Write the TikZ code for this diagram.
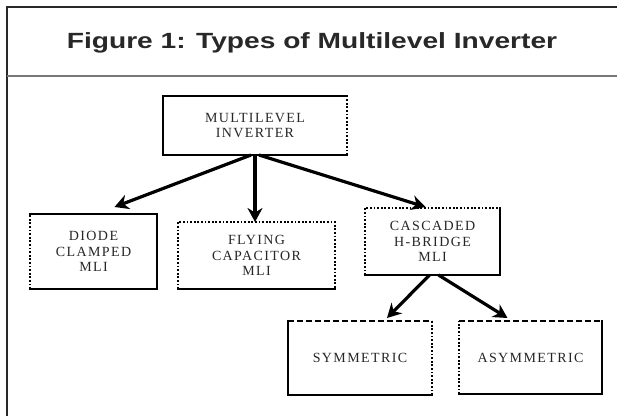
\documentclass[tikz,border=0pt]{standalone}
\usepackage{fontspec}
\usepackage{graphicx}
\setmainfont{Liberation Serif}
\newfontfamily\titlefont{Liberation Sans}
\newfontfamily\boxfont[LetterSpace=10]{Liberation Serif}
\usepackage{tikz}
\usetikzlibrary{positioning, arrows.meta, calc}
\definecolor{cT}{RGB}{40,40,40}
\definecolor{cS}{RGB}{120,120,120}

\begin{document}
\begin{tikzpicture}[x=1pt, y=-1pt,
    mlbox/.style={draw=none, outer sep=0pt, align=center, text=black!85,
        font=\boxfont\fontsize{14}{15.5}\selectfont},
    solidside/.style={line width=2pt, line cap=rect},
    dotside/.style={line width=2pt, dash pattern=on 1.8pt off 1.8pt},
    dashside/.style={line width=2pt, dash pattern=on 6pt off 3pt},
    arr/.style={line width=3.2pt, -{Stealth[length=14pt, width=15pt]}}]
    \useasboundingbox (0,0) rectangle (617,416);

    % Frame and header
    \draw[line width=1.8pt, cT] (7,416) -- (7,7) -- (617,7);
    \draw[line width=1.8pt, cS] (7,76) -- (617,76);
    \node[font=\titlefont\bfseries\fontsize{22}{26}\selectfont, text=cT, anchor=base] (title) at (312,48) {\scalebox{1.28}[1]{Figure 1: Types of Multilevel Inverter}};

    % Boxes
    \node[mlbox, minimum width=184pt, minimum height=59pt] (mli) at (255,125.5) {MULTILEVEL\\INVERTER};
    \node[mlbox, minimum width=127pt, minimum height=75pt] (diode) at (93.5,251.5) {DIODE\\CLAMPED\\MLI};
    \node[mlbox, minimum width=157pt, minimum height=67pt] (flying) at (256.5,255.5) {FLYING\\CAPACITOR\\MLI};
    \node[mlbox, minimum width=135pt, minimum height=67pt] (cascaded) at (432.5,241.5) {CASCADED\\H-BRIDGE\\MLI};
    \node[mlbox, minimum width=144pt, minimum height=74pt] (sym) at (360,358) {SYMMETRIC};
    \node[mlbox, minimum width=143pt, minimum height=73pt] (asym) at (530.5,357.5) {ASYMMETRIC};

    % Box borders (some sides dotted or dashed)
    \draw[solidside] (mli.north east) -- (mli.north west) -- (mli.south west) -- (mli.south east);
    \draw[dotside] (mli.south east) -- (mli.north east);
    \draw[solidside] (diode.north west) -- (diode.north east) -- (diode.south east) -- (diode.south west);
    \draw[dotside] (diode.south west) -- (diode.north west);
    \draw[solidside] (flying.south west) -- (flying.south east);
    \draw[dotside] (flying.south west) -- (flying.north west) -- (flying.north east) -- (flying.south east);
    \draw[solidside] (cascaded.north east) -- (cascaded.south east) -- (cascaded.south west);
    \draw[dotside] (cascaded.south west) -- (cascaded.north west) -- (cascaded.north east);
    \draw[solidside] (sym.north west) -- (sym.south west) -- (sym.south east);
    \draw[dotside] (sym.south east) -- (sym.north east);
    \draw[dashside] (sym.north west) -- (sym.north east);
    \draw[solidside] (asym.north east) -- (asym.south east) -- (asym.south west);
    \draw[dotside] (asym.south west) -- (asym.north west);
    \draw[dashside] (asym.north west) -- (asym.north east);

    % Arrows
    \draw[arr] ([xshift=-4pt]mli.south) -- ([xshift=21pt, yshift=7pt]diode.north);
    \draw[arr] (mli.south) -- (mli.south |- flying.north);
    \draw[arr] ([xshift=4pt]mli.south) -- ([xshift=-7pt, yshift=1pt]cascaded.north);
    \draw[arr] ([xshift=-3pt]cascaded.south) -- ([xshift=27pt, yshift=3pt]sym.north);
    \draw[arr] ([xshift=6pt]cascaded.south) -- ([xshift=-23pt, yshift=3pt]asym.north);
\end{tikzpicture}
\end{document}
